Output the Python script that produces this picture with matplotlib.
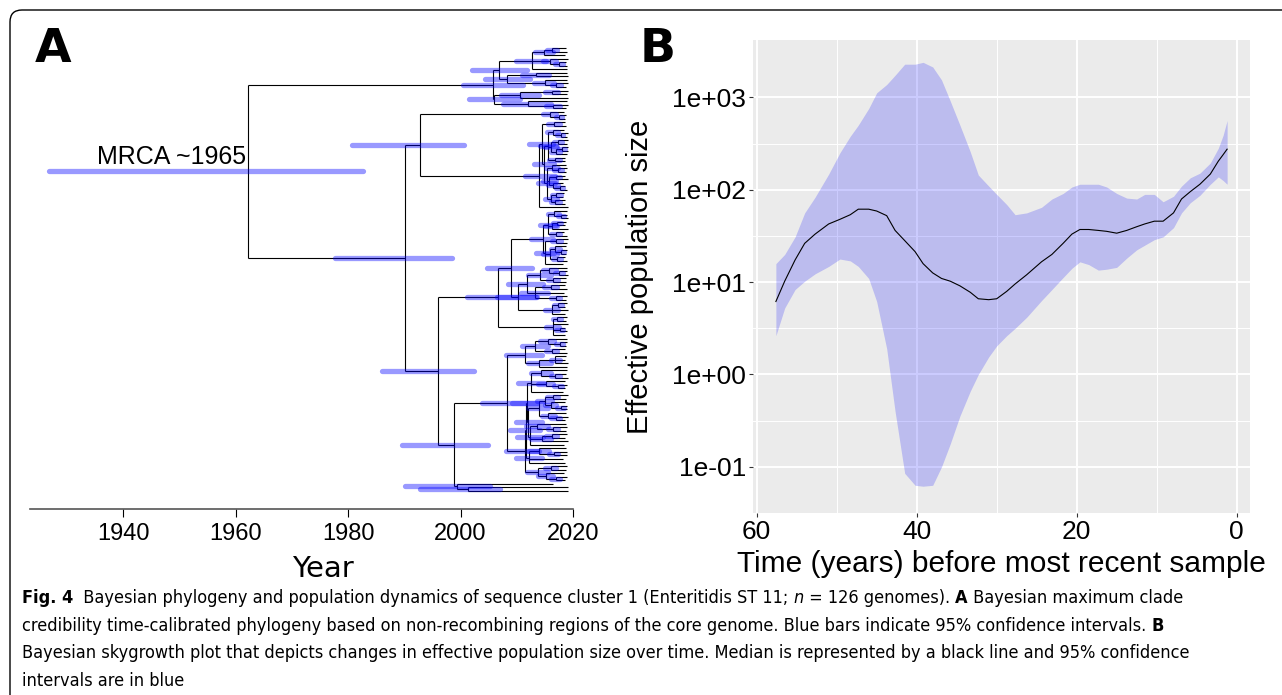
import numpy as np
import matplotlib
matplotlib.use("Agg")
import matplotlib.pyplot as plt
from matplotlib import font_manager
from matplotlib.collections import LineCollection
from matplotlib.patches import FancyBboxPatch
from matplotlib.transforms import IdentityTransform

# ---------------- panel B: skygrowth (log10 effective population size) ----------------
years_before = [57.6, 56.5, 55.2, 54.0, 52.7, 51.0, 49.6, 48.3, 47.3, 46.0, 45.0, 43.75,
                42.7, 41.5, 40.2, 39.2, 38.0, 36.9, 35.8, 34.6, 33.3, 32.3, 31.0, 30.0,
                28.75, 27.7, 26.25, 24.4, 23.1, 21.7, 20.6, 19.6, 18.5, 17.3, 16.25, 15.0,
                13.75, 12.5, 11.5, 10.3, 9.2, 7.9, 6.9, 5.8, 4.6, 3.3, 2.3, 1.7, 1.2]
log_ne_median = [0.79, 1.01, 1.24, 1.42, 1.52, 1.63, 1.68, 1.73, 1.79, 1.79, 1.77, 1.72,
                 1.56, 1.45, 1.33, 1.20, 1.10, 1.04, 1.01, 0.96, 0.89, 0.82, 0.81, 0.82,
                 0.90, 0.98, 1.08, 1.22, 1.30, 1.42, 1.52, 1.57, 1.57, 1.56, 1.55, 1.53,
                 1.56, 1.60, 1.63, 1.66, 1.66, 1.75, 1.90, 1.98, 2.06, 2.17, 2.31, 2.38, 2.44]
log_ne_upper = [1.20, 1.30, 1.49, 1.75, 1.92, 2.17, 2.40, 2.58, 2.70, 2.88, 3.05, 3.14,
                3.24, 3.36, 3.36, 3.38, 3.33, 3.19, 2.96, 2.70, 2.41, 2.16, 2.04, 1.95,
                1.84, 1.73, 1.75, 1.81, 1.90, 1.96, 2.03, 2.06, 2.06, 2.06, 2.03, 1.96,
                1.91, 1.90, 1.95, 1.95, 1.87, 1.93, 2.04, 2.13, 2.18, 2.29, 2.45, 2.59, 2.75]
log_ne_lower = [0.42, 0.72, 0.92, 1.01, 1.09, 1.17, 1.25, 1.23, 1.17, 1.04, 0.79, 0.28,
                -0.40, -1.07, -1.20, -1.21, -1.20, -1.00, -0.75, -0.45, -0.18, 0.00, 0.19, 0.31,
                0.42, 0.50, 0.62, 0.80, 0.92, 1.05, 1.15, 1.22, 1.19, 1.13, 1.14, 1.16,
                1.26, 1.35, 1.40, 1.46, 1.49, 1.59, 1.75, 1.86, 1.94, 2.06, 2.14, 2.10, 2.06]
ne_ticks = [0.1, 1, 10, 100, 1000]
ne_tick_labels = ["1e-01", "1e+00", "1e+01", "1e+02", "1e+03"]
time_ticks = [60, 40, 20, 0]

# ---------------- panel A: dated tree ----------------
# internal node = [year, 95% HPD low, 95% HPD high, child, child, ...]; tip = sampling year
clade_1 = [2005.8, 2000.4, 2011.1,
           [2006.9, 2002.0, 2011.8,
            [2012.7, 2009.8, 2015.2,
             [2014.8, 2013.2, 2016.4, [2016.3, 2015.4, 2017.2, 2018.7, 2019.0], 2018.6],
             [2015.9, 2014.6, 2017.0, 2019.1, [2017.5, 2016.8, 2018.2, 2018.8, 2019.0]],
             2018.9],
            [2008.2, 2004.3, 2012.4,
             [2013.5, 2011.0, 2015.8, 2019.0, 2019.1],
             [2015.0, 2013.0, 2016.6, 2018.9, [2017.0, 2016.2, 2017.8, 2019.1, 2018.7]]]],
           [2005.9, 2001.5, 2010.6,
            [2010.6, 2007.2, 2014.0, [2016.2, 2015.0, 2017.4, 2019.1, 2019.0], 2019.1],
            [2012.0, 2007.5, 2016.0, 2018.9, [2016.5, 2015.2, 2017.6, 2019.1, 2018.8]]]]

clade_2 = [2015.9, 2014.7, 2017.0, 2018.4, [2017.5, 2016.9, 2018.1, 2018.7, 2018.6]]

clade_3 = [2014.0, 2011.5, 2016.8,
           [2014.4, 2012.2, 2016.5,
            [2016.6, 2015.6, 2017.6, 2018.6, 2018.8],
            [2014.8, 2013.0, 2016.6,
             [2015.6, 2014.2, 2016.9,
              [2016.4, 2015.4, 2017.3, 2018.4, [2017.8, 2017.2, 2018.3, 2019.1, 2019.0]],
              [2016.0, 2015.0, 2017.1,
               [2017.3, 2016.6, 2018.0, 2019.1, 2019.0],
               [2016.9, 2016.1, 2017.6, [2018.0, 2017.5, 2018.5, 2019.1, 2019.1], 2018.9]],
              [2016.8, 2015.8, 2017.7, 2018.6, 2018.5]],
             [2015.3, 2013.8, 2016.8,
              [2016.3, 2015.2, 2017.3, 2018.8, [2017.4, 2016.7, 2018.1, 2019.0, 2018.7]],
              [2015.8, 2014.6, 2017.0,
               [2016.9, 2016.0, 2017.7, 2018.5, 2019.1],
               [2016.5, 2015.6, 2017.4, 2018.2, [2017.6, 2017.0, 2018.2, 2018.6, 2018.9]]],
              [2016.1, 2015.0, 2017.2,
               [2017.0, 2016.3, 2017.8, 2018.4, 2018.2],
               [2016.8, 2016.0, 2017.6, 2018.5, 2018.6]]]]],
           2019.1]

clade_4 = [2006.7, 2001.2, 2013.6,
           [2009.0, 2004.7, 2012.7,
            [2014.7, 2012.6, 2016.5,
             [2015.6, 2014.2, 2016.9,
              [2016.6, 2015.6, 2017.5, 2018.9, [2017.9, 2017.3, 2018.4, 2019.0, 2019.1]],
              [2016.2, 2015.1, 2017.2, [2017.2, 2016.5, 2017.9, 2018.8, 2018.6], 2019.1],
              [2016.9, 2016.0, 2017.7, 2018.4, 2018.9]],
             [2015.0, 2013.4, 2016.6,
              [2017.0, 2016.2, 2017.8, 2019.1, 2019.0],
              [2015.9, 2014.7, 2017.1,
               [2016.8, 2016.0, 2017.6, 2018.7, [2017.9, 2017.4, 2018.4, 2019.0, 2018.8]],
               [2017.2, 2016.5, 2017.9, 2018.5, 2018.9]],
              2018.3]],
            [2010.2, 2006.5, 2013.5,
             [2011.8, 2008.5, 2014.6,
              [2014.2, 2012.0, 2016.0,
               [2015.8, 2014.6, 2016.9, 2019.0, [2017.5, 2016.8, 2018.2, 2018.9, 2019.1]],
               [2016.5, 2015.5, 2017.4, 2018.7, 2018.8]],
              [2013.3, 2010.8, 2015.6,
               [2016.0, 2014.8, 2017.1, 2018.6, 2019.0],
               2018.4,
               [2016.9, 2016.0, 2017.7, 2018.9, 2018.7]]],
             [2016.2, 2015.0, 2017.3, [2017.4, 2016.7, 2018.0, 2018.9, 2018.6], 2019.1, 2018.5]]],
           [2016.4, 2015.2, 2017.5,
            [2017.2, 2016.5, 2017.9, 2018.9, 2018.7], 2019.1,
            [2017.6, 2016.9, 2018.2, 2018.6, 2018.9], 2018.5]]

clade_5_top = [2011.5, 2008.0, 2014.5,
               [2013.3, 2011.0, 2015.6,
                [2015.5, 2014.2, 2016.7, 2018.9, [2017.6, 2017.0, 2018.2, 2019.0, 2018.7]],
                [2016.2, 2015.2, 2017.2, 2018.5, 2018.9]],
               [2014.0, 2012.0, 2016.0,
                [2016.8, 2016.0, 2017.6, 2018.8, 2018.6, 2019.1],
                2019.0]]
group_1 = [2012.6, 2010.2, 2014.8,
           [2014.3, 2012.5, 2016.0, 2018.9, [2016.8, 2016.0, 2017.6, 2018.7, 2019.1]],
           [2015.2, 2013.8, 2016.5, 2018.5, [2017.3, 2016.6, 2018.0, 2018.9, 2018.6]],
           2018.2]
group_2 = [2013.9, 2012.0, 2015.6,
           [2015.0, 2013.6, 2016.3,
            [2016.4, 2015.4, 2017.3, 2019.1, 2018.8],
            [2016.0, 2015.0, 2017.0, 2018.6, [2017.8, 2017.2, 2018.4, 2019.0, 2018.9]]],
           [2015.6, 2014.4, 2016.8, 2018.7, [2016.9, 2016.1, 2017.7, 2019.1, 2018.5]]]
group_3 = [2012.4, 2010.0, 2014.6,
           [2013.6, 2011.6, 2015.5, 2018.8, [2016.5, 2015.5, 2017.4, 2019.0, 2018.7]],
           [2014.4, 2012.6, 2016.0, [2016.2, 2015.2, 2017.1, 2018.9, 2018.5], 2019.1],
           2018.4]
group_4 = [2012.2, 2009.8, 2014.5,
           [2014.0, 2012.2, 2015.7, 2018.8, [2016.6, 2015.8, 2017.4, 2019.0, 2018.9]],
           2018.3, 2018.6]
group_5 = [2013.8, 2011.8, 2015.6,
           [2016.0, 2015.0, 2017.0, 2018.9, 2018.7],
           [2015.2, 2013.8, 2016.5, 2018.4, [2016.9, 2016.1, 2017.7, 2019.0, 2018.6]]]
clade_5 = [2008.3, 2003.8, 2013.6,
           clade_5_top,
           [2011.4, 2008.0, 2014.0,
            [2011.6, 2008.8, 2014.2,
             [2011.8, 2009.2, 2014.4, group_1, [2012.0, 2009.8, 2014.4, group_2, group_3]],
             group_4],
            group_5]]

clade_6 = [1999.4, 1990.1, 2005.2, 2016.5, [2001.3, 1992.8, 2007.0, 2019.1, 2019.1]]

node_n6 = [1998.8, 1989.6, 2004.9, clade_5, clade_6]
node_n4 = [1996.0, 1986.0, 2002.4, clade_4, node_n6]
node_n3 = [1992.8, 1980.7, 2000.6, clade_2, clade_3]
node_n2 = [1990.1, 1977.7, 1998.5, node_n3, node_n4]
tree_root = [1962.2, 1926.8, 1982.7, clade_1, node_n2]
year_ticks = [1940, 1960, 1980, 2000, 2020]

caption_lines = [
    [("Fig. 4", "bold", "normal"),
     ("  Bayesian phylogeny and population dynamics of sequence cluster 1 (Enteritidis ST 11; ", "normal", "normal"),
     ("n", "normal", "italic"),
     (" = 126 genomes). ", "normal", "normal"),
     ("A", "bold", "normal"),
     (" Bayesian maximum clade", "normal", "normal")],
    [("credibility time-calibrated phylogeny based on non-recombining regions of the core genome. "
      "Blue bars indicate 95% confidence intervals. ", "normal", "normal"),
     ("B", "bold", "normal")],
    [("Bayesian skygrowth plot that depicts changes in effective population size over time. "
      "Median is represented by a black line and 95% confidence", "normal", "normal")],
    [("intervals are in blue", "normal", "normal")],
]
caption_line_ends = [1180, 1255, 1253, 205]

W, H = 1282, 695
plt.rcParams["font.family"] = ["Liberation Sans", "DejaVu Sans"]
fig = plt.figure(figsize=(W / 100, H / 100), dpi=100)


def box(left, top, right, bottom):
    return [left / W, 1 - bottom / H, (right - left) / W, (bottom - top) / H]


def layout(node, parent_year, state):
    if not isinstance(node, list):
        y = state["next_tip"]
        state["next_tip"] += 1
        state["branches"].append([(parent_year, y), (node, y)])
        return y
    year, lo, hi, *children = node
    ys = [layout(child, year, state) for child in children]
    y = float(np.mean(ys))
    state["verticals"].append([(year, min(ys)), (year, max(ys))])
    state["branches"].append([(parent_year, y), (year, y)])
    state["bars"].append([(lo, y), (hi, y)])
    return y


# ---- panel A ----
state = {"next_tip": 0, "branches": [], "verticals": [], "bars": []}
root_y = layout(tree_root, tree_root[0], state)
n_tips = state["next_tip"]

ax_a = fig.add_axes(box(30.2, 40, 584.3, 509))
ax_a.add_collection(LineCollection(state["branches"] + state["verticals"],
                                   colors="black", linewidths=0.8, zorder=2))
ax_a.add_collection(LineCollection(state["bars"], colors="blue", alpha=0.4,
                                   linewidths=3.8, capstyle="round", zorder=3))
ax_a.set_xlim(1923.5, 2022.0)
ax_a.set_ylim(n_tips - 1 + 5.1, -2.26)
for side in ("top", "right", "left"):
    ax_a.spines[side].set_visible(False)
ax_a.spines["bottom"].set_bounds(1923.5, year_ticks[-1])
ax_a.spines["bottom"].set_color("#555555")
ax_a.spines["bottom"].set_linewidth(1.2)
ax_a.set_yticks([])
ax_a.set_xticks(year_ticks)
ax_a.tick_params(axis="x", direction="out", length=5.8, width=0.8, pad=4,
                 labelsize=17, colors="black")
ax_a.set_xlabel("Year", family="DejaVu Sans", fontsize=21)
ax_a.xaxis.set_label_coords(0.528, -0.098)
ax_a.xaxis.label.set_va("top")
ax_a.annotate("MRCA ~1965", xy=(tree_root[0], root_y), xytext=(-1, 5.5),
              textcoords="offset points", ha="right", va="baseline", fontsize=18)

# ---- panel B ----
ax_b = fig.add_axes(box(753, 40, 1250, 513))
ax_b.set_facecolor("#EBEBEB")
t = np.array(years_before)
ax_b.fill_between(t, 10 ** np.array(log_ne_lower), 10 ** np.array(log_ne_upper),
                  color="blue", alpha=0.2, lw=0, zorder=2)
ax_b.plot(t, 10 ** np.array(log_ne_median), color="black", lw=0.8, zorder=3)
ax_b.set_yscale("log")
ax_b.set_xlim(60.46, -1.66)
ax_b.set_ylim(10 ** -1.423, 10 ** 3.622)
ax_b.set_yticks(ne_ticks)
ax_b.set_yticklabels(ne_tick_labels)
ax_b.set_yticks([10 ** (np.log10(v) + 0.5) for v in ne_ticks[:-1]] + [10 ** -1.5], minor=True)
ax_b.set_xticks(time_ticks)
ax_b.set_xticks([50, 30, 10], minor=True)
ax_b.yaxis.set_minor_formatter(plt.NullFormatter())
ax_b.grid(True, which="major", color="white", lw=1.4, zorder=1)
ax_b.grid(True, which="minor", color="white", lw=0.7, zorder=1)
ax_b.set_axisbelow(True)
for side in ax_b.spines.values():
    side.set_visible(False)
ax_b.tick_params(which="major", direction="out", length=2.8, width=0.8, color="#333333",
                 labelsize=19, pad=2, labelcolor="black")
ax_b.tick_params(which="minor", length=0)
ax_b.text(0.5, -0.078, "Time (years) before most recent sample", transform=ax_b.transAxes,
          ha="center", va="top", fontsize=21.5)
ax_b.text((640 - 753) / 497, 0.5, "Effective population size", transform=ax_b.transAxes,
          rotation=90, ha="center", va="center", fontsize=21)

# panel letters
fig.text(35 / W, 1 - 62 / H, "A", family="DejaVu Sans", fontweight="bold", fontsize=34,
         va="baseline", ha="left")
fig.text(640 / W, 1 - 62 / H, "B", family="DejaVu Sans", fontweight="bold", fontsize=34,
         va="baseline", ha="left")

# frame
frame = FancyBboxPatch((10, -20), 1285, H - 10 + 20, boxstyle="round,pad=0,rounding_size=12",
                       transform=IdentityTransform(), fill=False, edgecolor="black", lw=1.0)
fig.add_artist(frame)

# caption
names = {f.name for f in font_manager.fontManager.ttflist}
cap_family = "Liberation Sans Narrow" if "Liberation Sans Narrow" in names else "DejaVu Sans"
cap_stretch = "normal" if cap_family == "Liberation Sans Narrow" else "condensed"
renderer = fig.canvas.get_renderer()


def draw_caption_line(x0, baseline, parts, size):
    x = x0
    for text, weight, style in parts:
        t_obj = fig.text(x / W, 1 - baseline / H, text, fontsize=size, family=cap_family,
                         fontstretch=cap_stretch, fontweight=weight, fontstyle=style,
                         va="baseline", ha="left")
        x += t_obj.get_window_extent(renderer).width
    return x


def line_width(parts, size):
    total = 0.0
    for text, weight, style in parts:
        probe = fig.text(0, 0, text, fontsize=size, family=cap_family, fontstretch=cap_stretch,
                         fontweight=weight, fontstyle=style)
        total += probe.get_window_extent(renderer).width
        probe.remove()
    return total


cap_size = min(10 * (end - 22) / line_width(line, 10)
               for line, end in zip(caption_lines[:3], caption_line_ends[:3]))

for line, baseline in zip(caption_lines, [603, 631, 658, 686]):
    draw_caption_line(22, baseline, line, cap_size)

fig.savefig("out.png", dpi=100)
